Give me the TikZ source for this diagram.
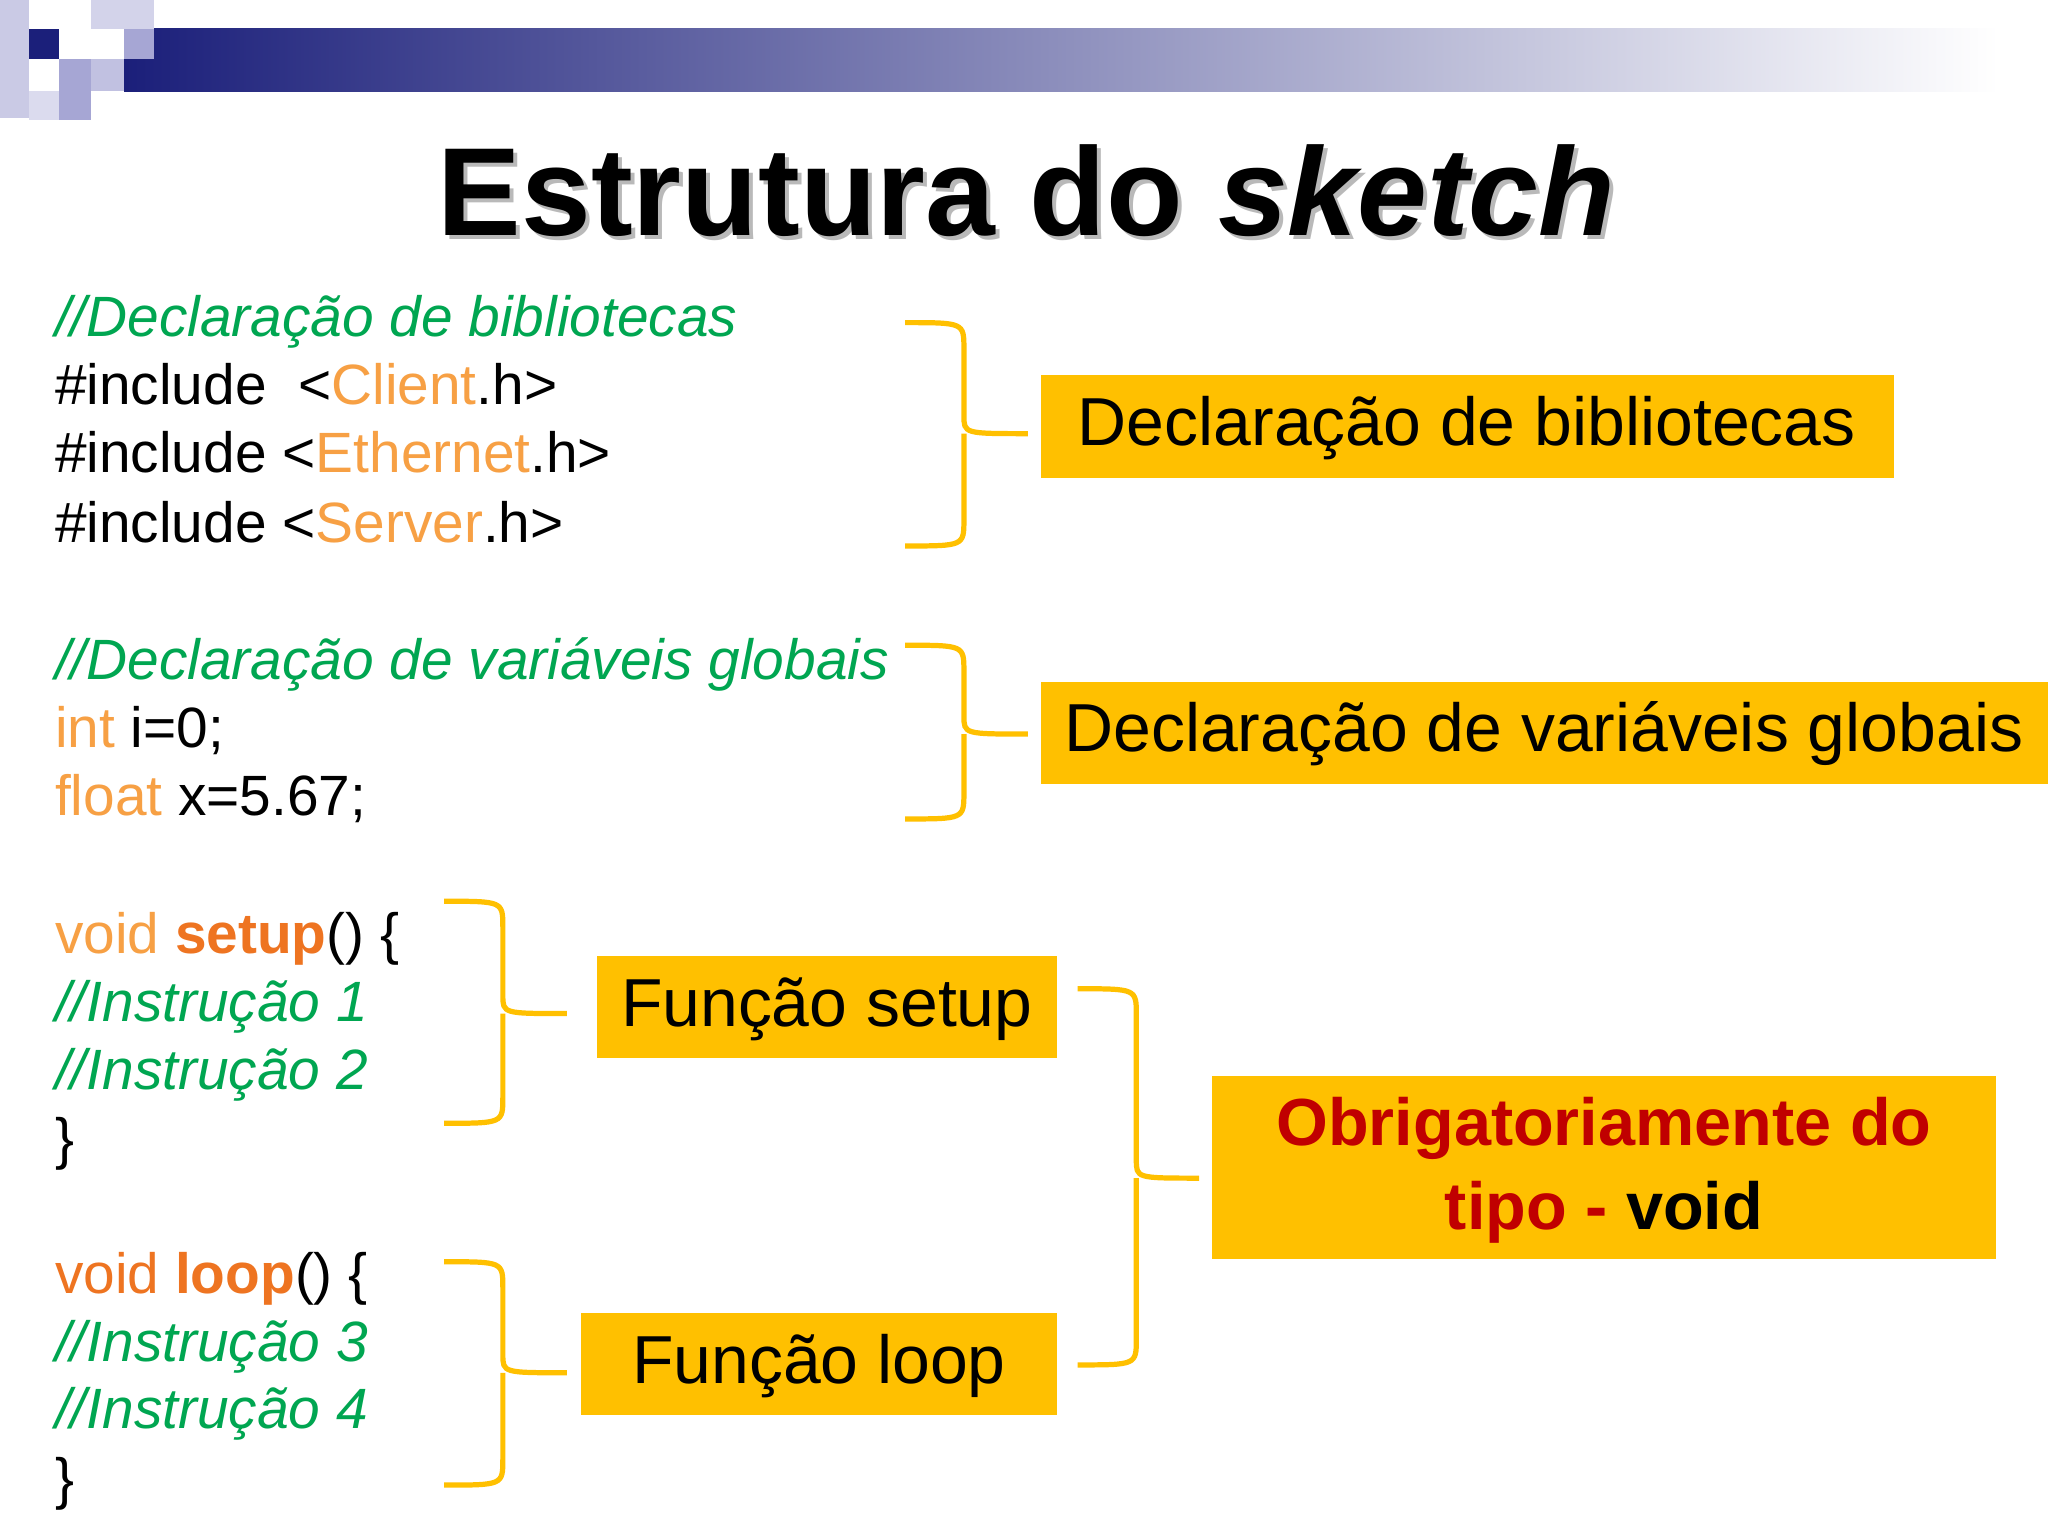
\documentclass[tikz,border=0pt]{standalone}
\usepackage{fontspec}
\setmainfont{Liberation Sans}
\definecolor{brc}{HTML}{FFC000}
\definecolor{grn}{HTML}{00A651}
\definecolor{lor}{HTML}{F7A044}
\definecolor{dor}{HTML}{EE7421}
\definecolor{dred}{HTML}{C00000}
\definecolor{navy}{HTML}{1B1F7A}
\definecolor{lav}{HTML}{A6A6D4}
\newcommand{\ybrace}[6]{\draw[brc,line width=4pt]
 (#1,#4) .. controls (#2,#4) .. (#2,#4+20) -- (#2,#6-14) .. controls (#2,#6) .. (#3,#6)
 (#2,#6) .. controls (#2,#6) .. (#2,#6+14) -- (#2,#5-20) .. controls (#2,#5) .. (#1,#5);}
\begin{document}
\begin{tikzpicture}[x=1pt,y=-1pt,
 code/.style={anchor=base west,inner sep=0,font=\fontsize{43.5}{48}\selectfont},
 btxt/.style={anchor=center,inner sep=0,font=\fontsize{52}{60}\selectfont}]
\useasboundingbox[fill=white] (0,0) rectangle (1568,1176);
% header
\shade[left color=navy,right color=white] (95,22) rectangle (1530,70);
\fill[lav!60] (0,0) rectangle (22,90);
\fill[lav!50] (70,0) rectangle (118,22);
\fill[lav] (95,22) rectangle (118,45);
\fill[lav] (45,45) rectangle (70,70);
\fill[lav] (45,70) rectangle (70,92);
\fill[lav!40] (22,70) rectangle (45,92);
\fill[navy] (22,22) rectangle (45,45);
\fill[lav!70] (70,45) rectangle (95,70);
% title
\node[anchor=base,inner sep=0,font=\fontsize{96}{110}\selectfont\bfseries,text=gray!55] at (789,183) {Estrutura do \textit{sketch}};
\node (title) [anchor=base,inner sep=0,font=\fontsize{96}{110}\selectfont\bfseries] at (786,180) {Estrutura do \textit{sketch}};
% code
\node (c1) [code,text=grn] at (42,258) {\itshape //Declaração de bibliotecas};
\node (c2) [code] at (42,310) {\#include \ <\textcolor{lor}{Client}.h>};
\node (c3) [code] at (42,362) {\#include <\textcolor{lor}{Ethernet}.h>};
\node (c4) [code] at (42,415) {\#include <\textcolor{lor}{Server}.h>};
\node (c5) [code,text=grn] at (42,520) {\itshape //Declaração de variáveis globais};
\node (c6) [code] at (42,572) {\textcolor{lor}{int} i=0;};
\node (c7) [code] at (42,624) {\textcolor{lor}{float} x=5.67;};
\node (c8) [code] at (42,730) {\textcolor{lor}{void} \textcolor{dor}{\bfseries setup}() \{};
\node (c9) [code,text=grn] at (42,782) {\itshape //Instrução 1};
\node (c10) [code,text=grn] at (42,834) {\itshape //Instrução 2};
\node (c11) [code] at (42,887) {\}};
\node (c12) [code] at (42,990) {\textcolor{dor}{void} \textcolor{dor}{\bfseries loop}() \{};
\node (c13) [code,text=grn] at (42,1042) {\itshape //Instrução 3};
\node (c14) [code,text=grn] at (42,1094) {\itshape //Instrução 4};
\node (c15) [code] at (42,1147) {\}};
% braces
\ybrace{693}{738}{787}{247}{418}{332}
\ybrace{693}{738}{787}{494}{627}{562}
\ybrace{340}{385}{434}{690}{860}{776}
\ybrace{340}{385}{434}{966}{1137}{1051}
\ybrace{825}{870}{918}{757}{1045}{902}
% boxes
\fill[brc] (797,287) rectangle (1450,366);
\node (b1) [btxt] at (1123,328) {Declaração de bibliotecas};
\fill[brc] (797,522) rectangle (1568,600);
\node (b2) [btxt] at (1182,562) {Declaração de variáveis globais};
\fill[brc] (457,732) rectangle (809,810);
\node (b3) [btxt] at (633,773) {Função setup};
\fill[brc] (445,1005) rectangle (809,1083);
\node (b4) [btxt] at (627,1046) {Função loop};
\fill[brc] (928,824) rectangle (1528,964);
\node (b5) [anchor=center,align=center,inner sep=0,text=dred,font=\fontsize{51}{64}\selectfont\bfseries] at (1228,896) {Obrigatoriamente do\\tipo - \textcolor{black}{void}};
\end{tikzpicture}
\end{document}
